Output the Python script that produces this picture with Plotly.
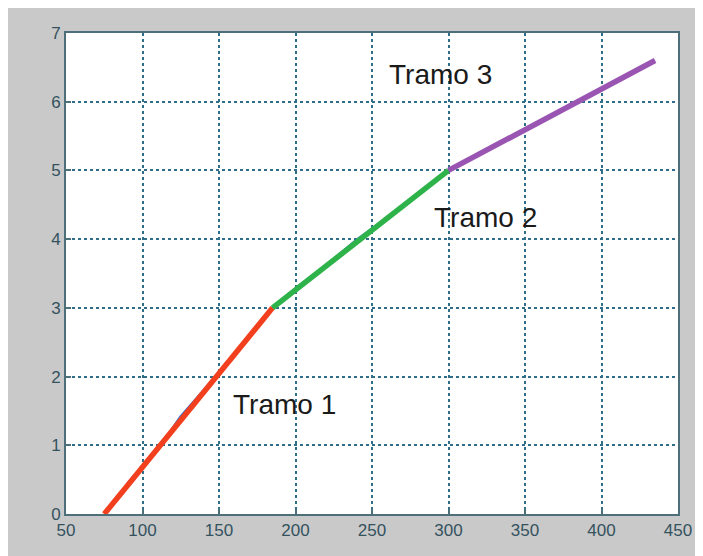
import plotly.graph_objects as go

# Underlying measured curve (thin blue)
curve_x = [90, 100, 111, 124.5, 137, 149, 162, 172, 180, 185, 200, 220, 240, 250, 270, 300, 324, 350, 380, 410, 435]
curve_y = [0.45, 0.71, 0.98, 1.42, 1.74, 2.04, 2.37, 2.67, 2.85, 3.0, 3.29, 3.63, 4.0, 4.16, 4.48, 5.0, 5.31, 5.61, 5.95, 6.28, 6.6]

# Piecewise linear segments
tramo1_x = [75, 185]
tramo1_y = [0, 3]
tramo2_x = [185, 300]
tramo2_y = [3, 5]
tramo3_x = [300, 435]
tramo3_y = [5, 6.6]

labels = ["Tramo 1", "Tramo 2", "Tramo 3"]
label_x = [192.5, 324, 295]
label_y = [1.59, 4.31, 6.39]

x_ticks = [50, 100, 150, 200, 250, 300, 350, 400, 450]
y_ticks = [0, 1, 2, 3, 4, 5, 6, 7]

fig = go.Figure()
fig.add_trace(go.Scatter(x=curve_x, y=curve_y, mode="lines",
                         line=dict(color="#3a6fd0", width=1.5), showlegend=False))
fig.add_trace(go.Scatter(x=tramo1_x, y=tramo1_y, mode="lines",
                         line=dict(color="#f2401f", width=5.5), showlegend=False))
fig.add_trace(go.Scatter(x=tramo2_x, y=tramo2_y, mode="lines",
                         line=dict(color="#2eb34a", width=5.5), showlegend=False))
fig.add_trace(go.Scatter(x=tramo3_x, y=tramo3_y, mode="lines",
                         line=dict(color="#9a55b2", width=5.5), showlegend=False))

for t, x, y in zip(labels, label_x, label_y):
    fig.add_annotation(x=x, y=y, text=t, showarrow=False,
                       font=dict(family="Liberation Sans, Arial", size=28, color="#1a1a1a"))

axis_common = dict(
    showgrid=True, gridcolor="#2f6e88", griddash="dot", gridwidth=1.5,
    showline=True, linecolor="#4d6f7a", linewidth=2, mirror=True,
    ticks="inside", ticklen=5, tickcolor="#4d6f7a", tickwidth=1.5,
    zeroline=False, ticklabelstandoff=0,
    tickfont=dict(family="Liberation Sans, Arial", size=17, color="#34525e"),
)
fig.update_xaxes(range=[50, 450], tickvals=x_ticks, **axis_common)
fig.update_yaxes(range=[0, 7], tickvals=y_ticks, **axis_common)

# page body adds an 8px offset; plot area spans page px 66..678 x 33..514
fig.update_layout(
    width=695, height=548,
    margin=dict(l=58, r=25, t=25, b=42),
    paper_bgcolor="#c9c9c9", plot_bgcolor="white",
)

fig.write_html("out.html")
